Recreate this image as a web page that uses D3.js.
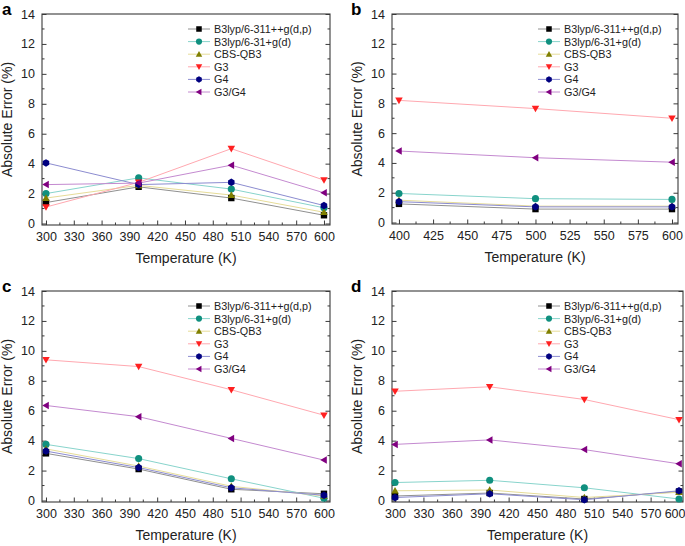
<!DOCTYPE html>
<html>
<head>
<meta charset="utf-8">
<script src="https://cdn.jsdelivr.net/npm/d3@7"></script>
<style>
  body { margin: 0; background: #fff; }
  svg { display: block; font-family: "Liberation Sans", Arial, sans-serif; }
</style>
</head>
<body>
<svg id="chart" width="685" height="546"></svg>
<script>
// series and values
const seriesNames = ["B3lyp/6-311++g(d,p)", "B3lyp/6-31+g(d)", "CBS-QB3", "G3", "G4", "G3/G4"];
const markerColors = ["#000000", "#10907f", "#7f7f00", "#ff2020", "#000080", "#800080"];
const lineColors = ["#909090", "#88d4cc", "#e6dc98", "#ffa8b0", "#8c8cd0", "#c48ad0"];
const markerShapes = ["square", "circle", "triUp", "triDown", "hexagon", "triLeft"];

const tempsFull = [300, 400, 500, 600];
const tempsShort = [400, 500, 600];

const valuesA = [
    [1.4, 2.45, 1.7, 0.55],
    [2.0, 3.05, 2.3, 1.05],
    [1.7, 2.55, 1.9, 0.75],
    [1.1, 2.75, 5.0, 2.9],
    [4.05, 2.6, 2.75, 1.2],
    [2.6, 2.7, 3.9, 2.05]
];
const valuesB = [
    [1.25, 0.9, 0.9],
    [1.95, 1.6, 1.55],
    [1.5, 1.1, 1.1],
    [8.2, 7.65, 7.0],
    [1.4, 1.05, 1.05],
    [4.8, 4.35, 4.05]
];
const valuesC = [
    [3.15, 2.1, 0.75, 0.45],
    [3.75, 2.8, 1.45, 0.15],
    [3.45, 2.3, 0.95, 0.3],
    [9.4, 8.95, 7.4, 5.7],
    [3.3, 2.2, 0.85, 0.35],
    [6.35, 5.6, 4.15, 2.7]
];
const valuesD = [
    [0.3, 0.5, 0.1, 0.6],
    [1.2, 1.35, 0.85, 0.1],
    [0.65, 0.7, 0.2, 0.55],
    [7.3, 7.6, 6.75, 5.4],
    [0.2, 0.45, 0.05, 0.65],
    [3.75, 4.05, 3.4, 2.45]
];

const yTicks = [0, 2, 4, 6, 8, 10, 12, 14];
const xTicksFull = [300, 330, 360, 390, 420, 450, 480, 510, 540, 570, 600];
const xTicksShort = [400, 425, 450, 475, 500, 525, 550, 575, 600];

const panels = [
    { label: "a", left: 42, right: 330, top: 14, bottom: 225, xDomain: [295.7, 606.5], temps: tempsFull, values: valuesA, xTicks: xTicksFull, minorStep: 15 },
    { label: "b", left: 392, right: 678, top: 14, bottom: 224, xDomain: [394.9, 604.4], temps: tempsShort, values: valuesB, xTicks: xTicksShort, minorStep: 12.5 },
    { label: "c", left: 42, right: 330, top: 291, bottom: 502, xDomain: [295.7, 606.5], temps: tempsFull, values: valuesC, xTicks: xTicksFull, minorStep: 15 },
    { label: "d", left: 392, right: 683, top: 291, bottom: 502, xDomain: [296.8, 604.2], temps: tempsFull, values: valuesD, xTicks: xTicksFull, minorStep: 15 }
];

const svg = d3.select("#chart");
const axisColor = "#3a3a3a";

function markerPath(shape, s) {
    const p = d3.path();
    const r = s / 2;
    if (shape === "square") {
        p.rect(-r * 0.85, -r * 0.85, r * 1.7, r * 1.7);
    } else if (shape === "circle") {
        p.arc(0, 0, r * 0.95, 0, Math.PI * 2);
    } else if (shape === "triUp") {
        p.moveTo(0, -r); p.lineTo(r, r * 0.75); p.lineTo(-r, r * 0.75); p.closePath();
    } else if (shape === "triDown") {
        p.moveTo(0, r); p.lineTo(r, -r * 0.75); p.lineTo(-r, -r * 0.75); p.closePath();
    } else if (shape === "triLeft") {
        p.moveTo(-r, 0); p.lineTo(r * 0.75, -r); p.lineTo(r * 0.75, r); p.closePath();
    } else {
        for (let i = 0; i < 6; i += 1) {
            const a = Math.PI / 6 + i * Math.PI / 3;
            const px = Math.cos(a) * r, py = Math.sin(a) * r;
            if (i === 0) p.moveTo(px, py); else p.lineTo(px, py);
        }
        p.closePath();
    }
    return p.toString();
}

function drawPanel(cfg) {
    const x = d3.scaleLinear().domain(cfg.xDomain).range([cfg.left, cfg.right]);
    const y = d3.scaleLinear().domain([-0.1, 14]).range([cfg.bottom, cfg.top]);
    const g = svg.append("g");

    // minor ticks
    const xMinor = d3.range(cfg.xTicks[0], cfg.xTicks[cfg.xTicks.length - 1] + 0.01, cfg.minorStep)
        .filter(v => !cfg.xTicks.includes(v));
    const yMinor = d3.range(1, 14, 2);

    g.selectAll(".xminor").data(xMinor).join("line")
        .attr("x1", d => x(d)).attr("x2", d => x(d))
        .attr("y1", cfg.bottom).attr("y2", cfg.bottom - 2.5)
        .attr("stroke", axisColor).attr("stroke-width", 1);
    g.selectAll(".yminor").data(yMinor).join("line")
        .attr("x1", cfg.left).attr("x2", cfg.left + 2.5)
        .attr("y1", d => y(d)).attr("y2", d => y(d))
        .attr("stroke", axisColor).attr("stroke-width", 1);
    g.selectAll(".yminorR").data(yMinor).join("line")
        .attr("x1", cfg.right).attr("x2", cfg.right - 2.5)
        .attr("y1", d => y(d)).attr("y2", d => y(d))
        .attr("stroke", axisColor).attr("stroke-width", 1);

    // axes with inward ticks
    const xAxis = g.append("g").attr("transform", `translate(0,${cfg.bottom})`)
        .call(d3.axisBottom(x).tickValues(cfg.xTicks).tickSizeInner(-4.5).tickSizeOuter(0).tickPadding(7));
    const yAxis = g.append("g").attr("transform", `translate(${cfg.left},0)`)
        .call(d3.axisLeft(y).tickValues(yTicks).tickSizeInner(-4.5).tickSizeOuter(0).tickPadding(7));
    g.append("g").attr("transform", `translate(${cfg.right},0)`)
        .call(d3.axisRight(y).tickValues(yTicks).tickSizeInner(-4.5).tickSizeOuter(0).tickFormat(""));
    [xAxis, yAxis].forEach(a => {
        a.selectAll("text").attr("font-size", 12.5).attr("fill", "#222");
    });
    // keep the last label inside the page on the right-hand panels
    if (cfg.right > 680) {
        xAxis.selectAll(".tick:last-of-type text")
            .attr("text-anchor", "end").attr("x", 685 - x(600));
    }
    g.selectAll(".domain").remove();
    g.selectAll(".tick line").attr("stroke", axisColor);

    // frame
    g.append("rect")
        .attr("x", cfg.left).attr("y", cfg.top)
        .attr("width", cfg.right - cfg.left).attr("height", cfg.bottom - cfg.top)
        .attr("fill", "none").attr("stroke", axisColor).attr("stroke-width", 1.1);

    // series
    const line = d3.line().x(d => x(d[0])).y(d => y(d[1]));
    cfg.values.forEach((vals, i) => {
        const pts = vals.map((v, k) => [cfg.temps[k], v]);
        g.append("path").datum(pts)
            .attr("d", line).attr("fill", "none")
            .attr("stroke", lineColors[i]).attr("stroke-width", 1);
    });
    cfg.values.forEach((vals, i) => {
        const pts = vals.map((v, k) => [cfg.temps[k], v]);
        g.selectAll(null).data(pts).join("path")
            .attr("d", markerPath(markerShapes[i], 7.5))
            .attr("transform", d => `translate(${x(d[0])},${y(d[1])})`)
            .attr("fill", markerColors[i]);
    });

    // legend
    const lg = g.append("g").attr("transform", `translate(${cfg.left + 146},${cfg.top + 15})`);
    seriesNames.forEach((name, i) => {
        const row = lg.append("g").attr("transform", `translate(0,${i * 12.6})`);
        row.append("line").attr("x1", 0).attr("x2", 22).attr("y1", 0).attr("y2", 0)
            .attr("stroke", lineColors[i]).attr("stroke-width", 1);
        row.append("path").attr("d", markerPath(markerShapes[i], 6.5))
            .attr("transform", "translate(11,0)").attr("fill", markerColors[i]);
        row.append("text").attr("x", 26).attr("y", 4).attr("font-size", 10.8)
            .attr("fill", "#222").text(name);
    });

    // titles
    g.append("text")
        .attr("transform", `translate(${cfg.left - 30},${(cfg.top + cfg.bottom) / 2}) rotate(-90)`)
        .attr("text-anchor", "middle").attr("font-size", 14).attr("fill", "#222")
        .text("Absolute Error (%)");
    g.append("text")
        .attr("x", (cfg.left + cfg.right) / 2).attr("y", cfg.bottom + 38)
        .attr("text-anchor", "middle").attr("font-size", 14).attr("fill", "#222")
        .text("Temperature (K)");
    g.append("text")
        .attr("x", cfg.left - 40 + (cfg.label === "b" || cfg.label === "d" ? -1 : 0)).attr("y", cfg.top + 1)
        .attr("font-size", 17).attr("font-weight", "bold").attr("fill", "#000")
        .text(cfg.label);
}

panels.forEach(drawPanel);
</script>
</body>
</html>
